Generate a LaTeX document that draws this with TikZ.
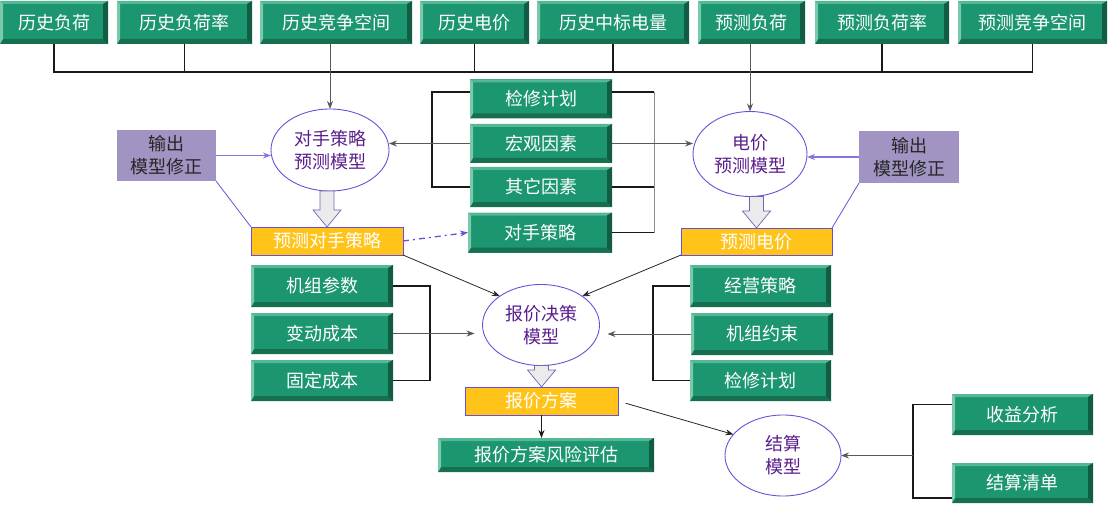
\documentclass[tikz,border=0pt]{standalone}
\usepackage{fontspec}
\setmainfont{Noto Sans CJK SC}
\usetikzlibrary{arrows.meta, shapes.geometric, calc}

\definecolor{gmain}{HTML}{1C9571}
\definecolor{gtop}{HTML}{55B894}
\definecolor{gleft}{HTML}{79C9AB}
\definecolor{gbot}{HTML}{16704F}
\definecolor{gright}{HTML}{135C44}
\definecolor{gold}{HTML}{FFC31A}
\definecolor{vline}{HTML}{6A50D8}
\definecolor{lav}{HTML}{A294C2}
\definecolor{etext}{HTML}{5A1E8C}

\tikzset{
  bevel/.style={path picture={
    \coordinate (bvnw) at (path picture bounding box.north west);
    \coordinate (bvne) at (path picture bounding box.north east);
    \coordinate (bvsw) at (path picture bounding box.south west);
    \coordinate (bvse) at (path picture bounding box.south east);
    \fill[gtop] (bvnw) -- (bvne) -- ([xshift=-5pt,yshift=-3pt]bvne) -- ([xshift=3pt,yshift=-3pt]bvnw) -- cycle;
    \fill[gbot] (bvsw) -- (bvse) -- ([xshift=-5pt,yshift=5pt]bvse) -- ([xshift=3pt,yshift=5pt]bvsw) -- cycle;
    \fill[gleft] (bvnw) -- ([xshift=3pt,yshift=-3pt]bvnw) -- ([xshift=3pt,yshift=5pt]bvsw) -- (bvsw) -- cycle;
    \fill[gright] (bvne) -- ([xshift=-5pt,yshift=-3pt]bvne) -- ([xshift=-5pt,yshift=5pt]bvse) -- (bvse) -- cycle;
  }},
  gbox/.style={bevel, fill=gmain, text=white, inner sep=0pt, outer sep=0pt},
  goldbox/.style={fill=gold, draw=vline, line width=0.9pt, text=white, inner sep=0pt, outer sep=0pt},
  fixbox/.style={fill=lav, text=black!85, align=center, inner sep=0pt, outer sep=0pt},
  model/.style={ellipse, draw=vline, line width=0.9pt, text=etext, align=center, inner sep=0pt, outer sep=0pt},
  bracket/.style={line width=1.6pt, black!90},
  thinarrow/.style={->, line width=0.8pt, black!65},
  fixarrow/.style={->, line width=1.4pt, vline!80},
  fixline/.style={line width=0.8pt, vline},
  fatline/.style={fill=black!8, draw=vline!60!gray, line width=0.7pt}
}

\newcommand{\fatarrow}[2]{%
  \coordinate (fatbase) at (#2 |- #1);
  \draw[fatline] ($(fatbase)+(-7,0)$) -- ($(#2)+(-7,-17)$) -- ($(#2)+(-14,-17)$) -- (#2)
    -- ($(#2)+(14,-17)$) -- ($(#2)+(7,-17)$) -- ($(fatbase)+(7,0)$) -- cycle;}

\begin{document}
\begin{tikzpicture}[x=1pt, y=-1pt, >={Stealth[length=8pt,width=6pt]}, font=\fontsize{18}{23}\selectfont]
  \useasboundingbox (0,0) rectangle (1110,505);

  % top row of inputs
  \node[gbox, minimum width=108, minimum height=43] (h1) at (54,22.5) {历史负荷};
  \node[gbox, minimum width=135, minimum height=43] (h2) at (184.5,22.5) {历史负荷率};
  \node[gbox, minimum width=152, minimum height=43] (h3) at (336,22.5) {历史竞争空间};
  \node[gbox, minimum width=109, minimum height=43] (h4) at (474.5,22.5) {历史电价};
  \node[gbox, minimum width=152, minimum height=43] (h5) at (613,22.5) {历史中标电量};
  \node[gbox, minimum width=107, minimum height=43] (h6) at (751.5,22.5) {预测负荷};
  \node[gbox, minimum width=134, minimum height=43] (h7) at (882,22.5) {预测负荷率};
  \node[gbox, minimum width=149, minimum height=43] (h8) at (1032.5,22.5) {预测竞争空间};
  \coordinate (bus) at (0,72);

  % middle column
  \node[gbox, minimum width=142, minimum height=39] (j1) at (541,99) {检修计划};
  \node[gbox, minimum width=142, minimum height=39] (j2) at (541,143.5) {宏观因素};
  \node[gbox, minimum width=142, minimum height=40] (j3) at (541,187) {其它因素};
  \node[gbox, minimum width=144, minimum height=40] (j4) at (540,232.5) {对手策略};

  % forecast models
  \node[model, minimum width=118, minimum height=82] (m1) at (330,150) {对手策略\\预测模型};
  \node[model, minimum width=114, minimum height=85] (m2) at (750,154) {电价\\预测模型};
  \node[fixbox, minimum width=99, minimum height=51] (c1) at (166.5,155.5) {输出\\模型修正};
  \node[fixbox, minimum width=100, minimum height=52] (c2) at (909,157) {输出\\模型修正};
  \node[goldbox, minimum width=152, minimum height=28] (p1) at (327,241) {预测对手策略};
  \node[goldbox, minimum width=151, minimum height=27] (p2) at (756.5,241.5) {预测电价};

  % bidding decision
  \node[gbox, minimum width=142, minimum height=42] (b1) at (322,286) {机组参数};
  \node[gbox, minimum width=142, minimum height=41] (b2) at (322,333.5) {变动成本};
  \node[gbox, minimum width=142, minimum height=41] (b3) at (322,380.5) {固定成本};
  \node[gbox, minimum width=141, minimum height=42] (r1) at (760.5,286) {经营策略};
  \node[gbox, minimum width=142, minimum height=42] (r2) at (762,334) {机组约束};
  \node[gbox, minimum width=141, minimum height=41] (r3) at (760.5,380.5) {检修计划};
  \node[model, minimum width=117, minimum height=81] (m3) at (541,325) {报价决策\\模型};
  \node[goldbox, minimum width=153, minimum height=28] (s1) at (541.5,401) {报价方案};
  \node[gbox, minimum width=216, minimum height=34] (s2) at (546,455) {报价方案风险评估};

  % settlement
  \node[model, minimum width=116, minimum height=81] (m4) at (783,455.5) {结算\\模型};
  \node[gbox, minimum width=141, minimum height=41] (k1) at (1022.5,414.5) {收益分析};
  \node[gbox, minimum width=141, minimum height=40] (k2) at (1022.5,483) {结算清单};

  % bus from the top row
  \draw[bracket] (h1.south) |- (h8.south |- bus) -- (h8.south);
  \foreach \n in {h2,h4,h5,h7} {
    \draw[bracket] (\n.south) -- (\n.south |- bus);
  }
  \draw[thinarrow] (h3.south -| m1.north) -- (m1.north);
  \draw[thinarrow] (h6.south -| m2.north) -- (m2.north);

  % factors into the two forecast models
  \draw[bracket] ([yshift=7pt]j1.west) -- ++(-38,0) |- (j3.west);
  \draw[bracket] ([yshift=7pt]j1.east) -- ++(42,0) coordinate (jr);
  \draw[bracket] (j3.east) -- ++(42,0);
  \draw[bracket] (j4.east) -- ++(42,0) coordinate (jb);
  \draw[line width=0.9pt, black!45] (jr) -- (jb);
  \draw[thinarrow] (j2.west) -- (j2.west -| m1.east);
  \draw[thinarrow] (j2.east) -- (j2.east -| m2.west);

  % model correction
  \draw[fixarrow] (c1.east) -- (c1.east -| m1.west);
  \draw[fixarrow] (c2.west) -- (c2.west -| m2.east);
  \draw[fixline] (c1.south east) -- (p1.north west);
  \draw[fixline] (c2.south west) -- (p2.north east);
  \fatarrow{m1.south}{p1.north}
  \fatarrow{m2.south}{p2.north}
  \draw[->, line width=1.3pt, vline, dash pattern=on 6pt off 4pt on 2pt off 4pt] (p1.east) -- (j4.west);

  % into the bidding model
  \draw[thinarrow, black!85] (p1.south east) -- (m3.145);
  \draw[thinarrow, black!85] (p2.south west) -- (m3.35);
  \draw[bracket] (b1.east) -- ++(37,0) |- (b3.east);
  \draw[bracket] (r1.west) -- ++(-37,0) |- (r3.west);
  \draw[thinarrow, shorten >=8pt] (b2.east) -- (b2.east -| m3.west);
  \draw[thinarrow, shorten >=8pt] (r2.west) -- (r2.west -| m3.east);
  \fatarrow{m3.south}{s1.north}
  \draw[thinarrow, black!90] (s1.south) -- (s1.south |- s2.north);

  % settlement model
  \draw[thinarrow, black!85, shorten <=8pt] (s1.east) -- (m4.157);
  \draw[bracket] ([yshift=10pt]k1.west) -- ++(-39,0) coordinate (kb) |- ([yshift=-15pt]k2.west);
  \draw[thinarrow] (kb |- m4.east) -- (m4.east);
\end{tikzpicture}
\end{document}
